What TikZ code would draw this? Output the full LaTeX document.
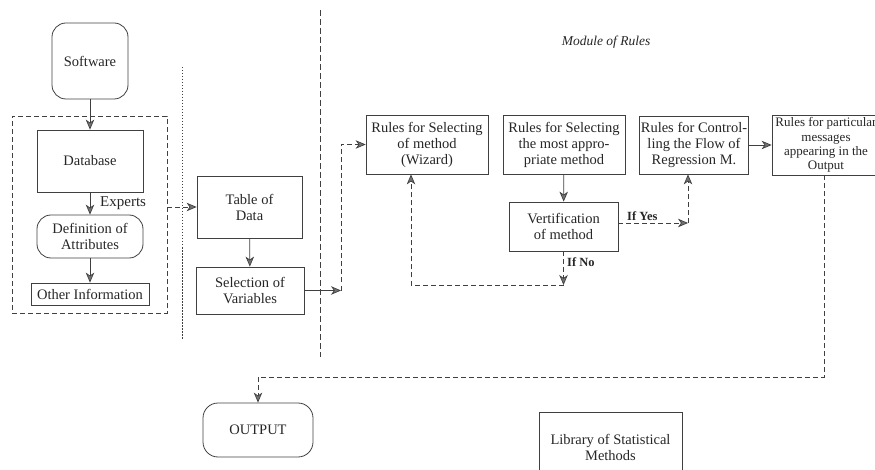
\documentclass[tikz,border=0pt]{standalone}
\usepackage{fontspec}
\setmainfont{Liberation Serif}
\usetikzlibrary{arrows.meta}
\begin{document}
\begin{tikzpicture}[x=1pt,y=-1pt,
  every node/.style={font=\fontsize{14.5}{16}\selectfont, align=center, inner sep=1pt, text=black!85},
  lin/.style={draw=black!75, line width=0.7pt},
  tip/.style={-{Stealth[length=10pt,width=8.5pt,inset=3pt,fill=black!55]}},
  dsh/.style={dash pattern=on 5pt off 3pt},
  rbox/.style={draw=black!75, line width=0.8pt, rectangle},
  rnd/.style={rbox, rounded corners=14pt},
  lbl/.style={font=\bfseries\fontsize{12.5}{14}\selectfont, anchor=west},
]
\useasboundingbox (0,0) rectangle (875,470);
\clip (0,0) rectangle (875,470);

% separators
\draw[lin, dash pattern=on 1.5pt off 1.5pt, line width=0.9pt] (182,67) -- (182,339);
\draw[lin, dash pattern=on 6pt off 3pt] (320,10) -- (320,357);

\node[font=\itshape\fontsize{13.5}{15}\selectfont] (mod) at (606,42) {Module of Rules};

% left column
\node[rnd, minimum width=76pt, minimum height=76pt] (sw) at (90,61) {Software};
\node[rbox, dsh, minimum width=155pt, minimum height=197pt] (grp) at (89.5,214.5) {};
\node[rbox, minimum width=106pt, minimum height=62pt] (db) at (90,161) {Database};
\node[rnd, minimum width=106pt, minimum height=43pt] (def) at (90,236.5) {Definition of\\Attributes};
\node[rbox, minimum width=118pt, minimum height=22pt, inner sep=0pt] (oth) at (90,294) {Other Information};
\node[anchor=west, font=\fontsize{15}{16}\selectfont] (exp) at (99,203) {Experts};

\draw[lin,tip] (sw) -- (db);
\draw[lin,tip] (db) -- (def);
\draw[lin,tip] (def) -- (oth);

% middle column
\node[rbox, minimum width=105pt, minimum height=62pt] (tab) at (249.5,207) {Table of\\Data};
\node[rbox, minimum width=108pt, minimum height=47pt] (sel) at (250,290.5) {Selection of\\Variables};
\draw[lin,dsh,tip] (grp.east |- tab.west) -- (tab.west);
\draw[lin,tip] (tab) -- (sel);

% rules module
\node[rbox, minimum width=122pt, minimum height=59pt] (wiz) at (427,144.5) {Rules for Selecting\\of method\\(Wizard)};
\node[rbox, minimum width=122pt, minimum height=59pt] (app) at (564,144.5) {Rules for Selecting\\the most appro-\\priate method};
\node[rbox, minimum width=109pt, minimum height=49pt] (ver) at (563.5,226.5) {Vertification\\of method};
\node[rbox, minimum width=108pt, minimum height=58pt] (ctl) at (694,145) {Rules for Control-\\ling the Flow of\\Regression M.};
\node[rbox, minimum width=108pt, minimum height=60pt, font=\fontsize{13}{14.3}\selectfont] (par) at (826,145) {Rules for particular\\messages\\appearing in the\\Output};

\coordinate (c1) at (341,290.5);
\draw[lin,tip] (sel.east) -- (c1);
\draw[lin,dsh,tip] (c1) |- (wiz.west);

\draw[lin,tip] (app) -- (ver);

\coordinate (c2) at (563.5,285);
\draw[lin,dsh,tip] (ver.south) -- (c2);
\draw[lin,dsh,tip] (c2) -| ([xshift=-16pt]wiz.south);
\node[lbl] (ifno) at (566,262) {If No};

\coordinate (c3) at (688,223);
\draw[lin,dsh,tip] (ver.east |- c3) -- (c3);
\draw[lin,dsh,tip] (c3) -- (c3 |- ctl.south);
\node[lbl] (ifyes) at (626,216) {If Yes};

\draw[lin,tip] (ctl.east) -- (par.west);

% output
\node[rnd, minimum width=110pt, minimum height=54pt, rounded corners=15pt] (out) at (258,430) {OUTPUT};
\coordinate (c4) at (258,377);
\draw[lin,dsh,tip] ([xshift=-2pt]par.south) |- (c4) -- (out.north);

\node[rbox, minimum width=143pt, minimum height=70pt, text depth=0pt] (lib) at (610.5,447) {Library of Statistical\\Methods};
\end{tikzpicture}
\end{document}
